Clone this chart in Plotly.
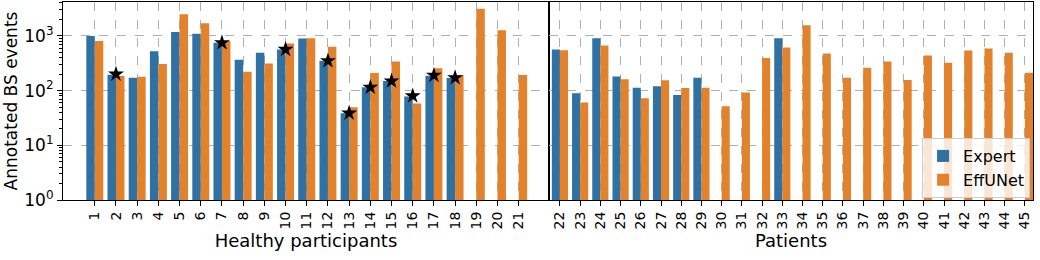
import plotly.graph_objects as go
from plotly.subplots import make_subplots

# Healthy participants 1..21
healthy_ids = list(range(1, 22))
healthy_expert = [1000, 195, 172, 526, 1180, 1100, 746, 366, 491, 565, 894, 351, 38.7, 115, 150, 78, 187, 170, None, None, None]
healthy_effunet = [811, 185, 180, 305, 2480, 1700, 811, 221, 314, 726, 907, 631, 49.8, 209, 341, 58, 255, 193, 3140, 1270, 193]
star_ids = [2, 7, 10, 12, 13, 14, 15, 16, 17, 18]
star_values = [200, 750, 565, 351, 38.7, 115, 150, 80, 190, 172]

# Patients 22..45
patient_ids = list(range(22, 46))
patient_expert = [565, 89.6, 907, 182, 113, 120, 83.4, 172, None, None, None, 907,
                  None, None, None, None, None, None, None, None, None, None, None, None]
patient_effunet = [549, 60.5, 667, 161, 72.6, 154, 112, 113, 51.9, 92, 393, 614,
                   1563, 477, 172, 262, 341, 156, 439, 323, 541, 589, 491, 212]

y_tickvals = [1, 10, 100, 1000]
y_ticktext = ["10<sup>0</sup>", "10<sup>1</sup>", "10<sup>2</sup>", "10<sup>3</sup>"]

BLUE = "#2f71a3"
ORANGE = "#e2822c"
FONT = "DejaVu Sans"

fig = make_subplots(rows=1, cols=2, shared_yaxes=True, horizontal_spacing=0)

fig.add_trace(go.Bar(x=healthy_ids, y=healthy_expert, name="Expert", marker_color=BLUE,
                     marker_line_width=0, legendgroup="e"), row=1, col=1)
fig.add_trace(go.Bar(x=healthy_ids, y=healthy_effunet, name="EffUNet", marker_color=ORANGE,
                     marker_line_width=0, legendgroup="o"), row=1, col=1)
fig.add_trace(go.Scatter(x=star_ids, y=star_values, mode="markers", showlegend=False,
                         marker=dict(symbol="star", size=12, color="black")), row=1, col=1)
fig.add_trace(go.Bar(x=patient_ids, y=patient_expert, name="Expert", marker_color=BLUE,
                     marker_line_width=0, legendgroup="e", showlegend=False), row=1, col=2)
fig.add_trace(go.Bar(x=patient_ids, y=patient_effunet, name="EffUNet", marker_color=ORANGE,
                     marker_line_width=0, legendgroup="o", showlegend=False), row=1, col=2)

W = 1040
l, r = 63, 7
pw = W - l - r
split = (549 - l) / pw

xcommon = dict(showline=True, linecolor="black", linewidth=1.2, mirror=True,
               ticks="outside", ticklen=5, tickcolor="black", tickangle=-90,
               tickfont=dict(size=14, color="black"), automargin=False,
               showgrid=True, gridcolor="#b0b0b0", griddash="dash", gridwidth=1,
               zeroline=False)

fig.update_xaxes(**xcommon, domain=[0, split], range=[-0.5, 22.43],
                 tickvals=healthy_ids, ticktext=[str(i) for i in healthy_ids],
                 title=dict(text="Healthy participants", font=dict(size=18, color="black"), standoff=5),
                 row=1, col=1)
fig.update_xaxes(**xcommon, domain=[split, 1], range=[21.46, 45.4],
                 tickvals=patient_ids, ticktext=[str(i) for i in patient_ids],
                 title=dict(text="Patients", font=dict(size=18, color="black"), standoff=5),
                 row=1, col=2)

minor_vals = [m * 10 ** d for d in range(0, 4) for m in range(2, 10)]

ycommon = dict(type="log", range=[0, 3.62], showline=True, linecolor="black", linewidth=1.2,
               mirror=True, automargin=False, tickvals=y_tickvals,
               showgrid=True, gridcolor="#b0b0b0", griddash="dash", gridwidth=1, zeroline=False)

fig.update_yaxes(**ycommon, ticks="outside", ticklen=5, tickcolor="black",
                 ticktext=y_ticktext, tickfont=dict(size=17, color="black"),
                 minor=dict(tickvals=minor_vals, ticks="outside", ticklen=3, tickcolor="black",
                            showgrid=False),
                 title=dict(text="Annotated BS events", font=dict(size=17, color="black"), standoff=2),
                 row=1, col=1)
fig.update_yaxes(**ycommon, ticks="", showticklabels=False, row=1, col=2)

fig.update_layout(
    width=1040, height=260,
    margin=dict(l=l, r=r, t=2, b=60),
    barmode="group", bargap=0.2, bargroupgap=0,
    plot_bgcolor="white", paper_bgcolor="white",
    font=dict(family=FONT, color="black"),
    legend=dict(x=0.997, y=0.01, xanchor="right", yanchor="bottom",
                bgcolor="rgba(255,255,255,0.8)", bordercolor="#cccccc", borderwidth=1,
                font=dict(size=16), traceorder="normal", itemwidth=30),
)

fig.write_html("out.html", config={"displayModeBar": False},
               post_script="document.body.style.margin='0';document.body.style.overflow='hidden';")
